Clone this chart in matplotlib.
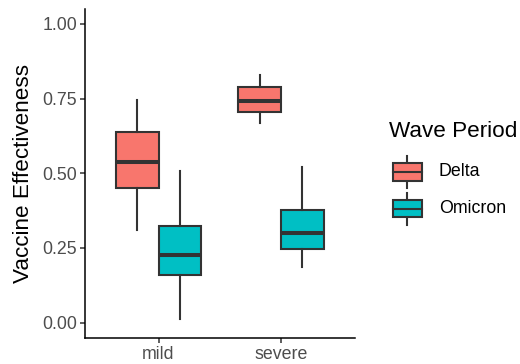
import matplotlib.pyplot as plt
from matplotlib.patches import Rectangle

plt.rcParams['font.family'] = ['Liberation Sans', 'DejaVu Sans']

# data
severity = ['mild', 'severe']
waves = ['Delta', 'Omicron']
colors = ['#F8766D', '#00BFC4']
# five-number summaries per wave, per severity: (whislo, q1, med, q3, whishi)
delta_stats = [(0.309, 0.452, 0.539, 0.637, 0.744),
               (0.667, 0.704, 0.741, 0.787, 0.827)]
omicron_stats = [(0.014, 0.161, 0.225, 0.325, 0.507),
                 (0.187, 0.246, 0.299, 0.377, 0.520)]
yticks = [0.0, 0.25, 0.5, 0.75, 1.0]

W, H = 520, 364
fig = plt.figure(figsize=(W / 100, H / 100), dpi=100)

# axes placed in pixel terms
left, right, top, bottom = 85, 354.5, 8.8, 337.7
ax = fig.add_axes([left / W, 1 - bottom / H, (right - left) / W, (bottom - top) / H])

edge = '#333333'
lw = 1.5
width = 0.35
offsets = [-0.175, 0.175]

for stats_set, off, col in zip([delta_stats, omicron_stats], offsets, colors):
    bxp = []
    for s in stats_set:
        lo, q1, med, q3, hi = s
        bxp.append({'whislo': lo, 'q1': q1, 'med': med, 'q3': q3, 'whishi': hi, 'fliers': []})
    pos = [i + 1 + off for i in range(len(severity))]
    ax.bxp(bxp, positions=pos, widths=width, patch_artist=True, showcaps=False,
           boxprops=dict(facecolor=col, edgecolor=edge, linewidth=lw),
           whiskerprops=dict(color=edge, linewidth=lw),
           medianprops=dict(color=edge, linewidth=2.9, solid_capstyle='butt'),
           manage_ticks=False)

ax.set_xlim(0.4, 2.6)
ax.set_ylim(-0.05, 1.05)
ax.set_xticks([1, 2])
ax.set_xticklabels(severity)
ax.set_yticks(yticks)
ax.set_yticklabels(['%.2f' % v for v in yticks])
ax.tick_params(colors=edge, labelcolor='#4D4D4D', labelsize=12.8, length=3.3, width=1.1, pad=2.5)
for sp in ['top', 'right']:
    ax.spines[sp].set_visible(False)
for sp in ['left', 'bottom']:
    ax.spines[sp].set_linewidth(1.1)
    ax.spines[sp].set_color('black')
ax.set_ylabel('Vaccine Effectiveness', fontsize=16.2, labelpad=6)

# legend drawn in pixel coordinates
lg = fig.add_axes([0, 0, 1, 1])
lg.set_xlim(0, W)
lg.set_ylim(H, 0)
lg.axis('off')
lg.text(389, 131.5, 'Wave Period', fontsize=16.2, va='center', ha='left')
key_y = [172, 208.7]
for yc, col, name in zip(key_y, colors, waves):
    lg.plot([407, 407], [yc - 16, yc + 16], color=edge, lw=lw, zorder=1)
    lg.add_patch(Rectangle((392.5, yc - 8.7), 29, 17.4, facecolor=col, edgecolor=edge, lw=lw, zorder=2))
    lg.plot([392.5, 421.5], [yc, yc], color=edge, lw=lw, zorder=3)
    lg.text(439, yc, name, fontsize=12.8, va='center', ha='left')

fig.savefig('out.png', dpi=100)
